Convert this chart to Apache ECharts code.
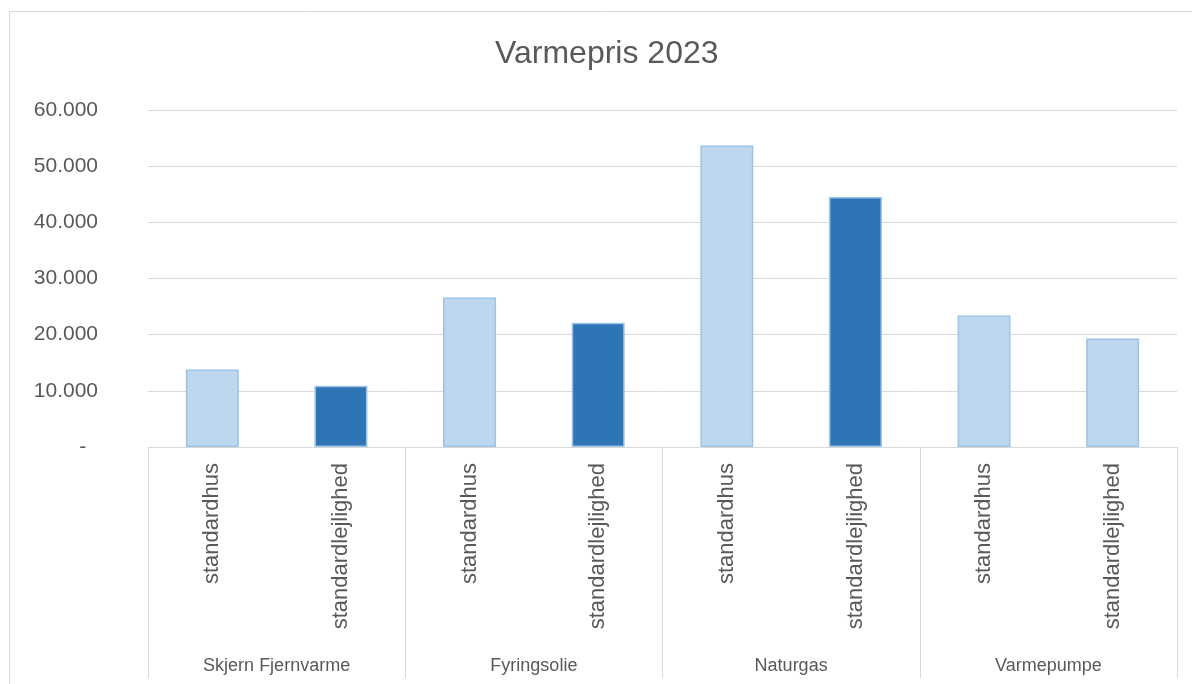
<!DOCTYPE html>
<html>
<head>
<meta charset="utf-8">
<script src="https://cdn.jsdelivr.net/npm/echarts@6/dist/echarts.min.js"></script>
<style>
  html, body { margin: 0; padding: 0; background: #fff; }
  #container { width: 1192px; height: 684px; }
</style>
</head>
<body>
<div id="container"></div>
<script>
var dom = document.getElementById("container");
var myChart = echarts.init(dom);

// data
var titleText = 'Varmepris 2023';
var subCategories = ['standardhus', 'standardlejlighed', 'standardhus', 'standardlejlighed',
                     'standardhus', 'standardlejlighed', 'standardhus', 'standardlejlighed'];
var groups = ['Skjern Fjernvarme', 'Fyringsolie', 'Naturgas', 'Varmepumpe'];
var prices = [13800, 10900, 26600, 22100, 53700, 44500, 23400, 19300];
var yTicks = [0, 10000, 20000, 30000, 40000, 50000, 60000];

var darkBars = [1, 3, 5];

function fmt(v) {
    if (v === 0) return '-  ';
    return String(v).replace(/\B(?=(\d{3})+(?!\d))/g, '.');
}

var option = {
    animation: false,
    textStyle: { fontFamily: 'Liberation Sans, Arial, sans-serif' },
    graphic: [{
        type: 'rect',
        shape: { x: 9.5, y: 11.5, width: 1300, height: 700 },
        style: { fill: 'none', stroke: '#d9d9d9', lineWidth: 1 },
        silent: true
    }],
    title: {
        text: titleText,
        left: 495,
        top: 38,
        padding: 0,
        textStyle: { color: '#595959', fontSize: 32, fontWeight: 'normal' }
    },
    grid: { left: 148, right: 15, top: 110, bottom: 237 },
    xAxis: [
        {
            type: 'category',
            data: subCategories,
            position: 'bottom',
            axisLine: { lineStyle: { color: '#d9d9d9', width: 1 } },
            axisTick: { show: false },
            axisLabel: { rotate: 90, interval: 0, margin: 16, color: '#595959', fontSize: 22 }
        },
        {
            type: 'category',
            data: groups,
            position: 'bottom',
            axisLine: { show: false },
            axisTick: { show: true, length: 231, inside: false, lineStyle: { color: '#d9d9d9', width: 1 } },
            axisLabel: { interval: 0, margin: 210, color: '#595959', fontSize: 18 }
        }
    ],
    yAxis: {
        type: 'value',
        min: yTicks[0],
        max: yTicks[yTicks.length - 1],
        interval: yTicks[1] - yTicks[0],
        axisLine: { show: false },
        axisTick: { show: false },
        splitLine: { lineStyle: { color: '#d9d9d9', width: 1 } },
        axisLabel: { formatter: fmt, color: '#595959', fontSize: 21, margin: 50 }
    },
    series: [{
        type: 'bar',
        xAxisIndex: 0,
        barWidth: 53,
        data: prices,
        itemStyle: {
            color: function (p) { return darkBars.indexOf(p.dataIndex) >= 0 ? '#2e75b6' : '#bdd7ee'; },
            borderColor: '#9dc3e6',
            borderWidth: 1.5
        }
    }]
};

myChart.setOption(option, true);
</script>
</body>
</html>
